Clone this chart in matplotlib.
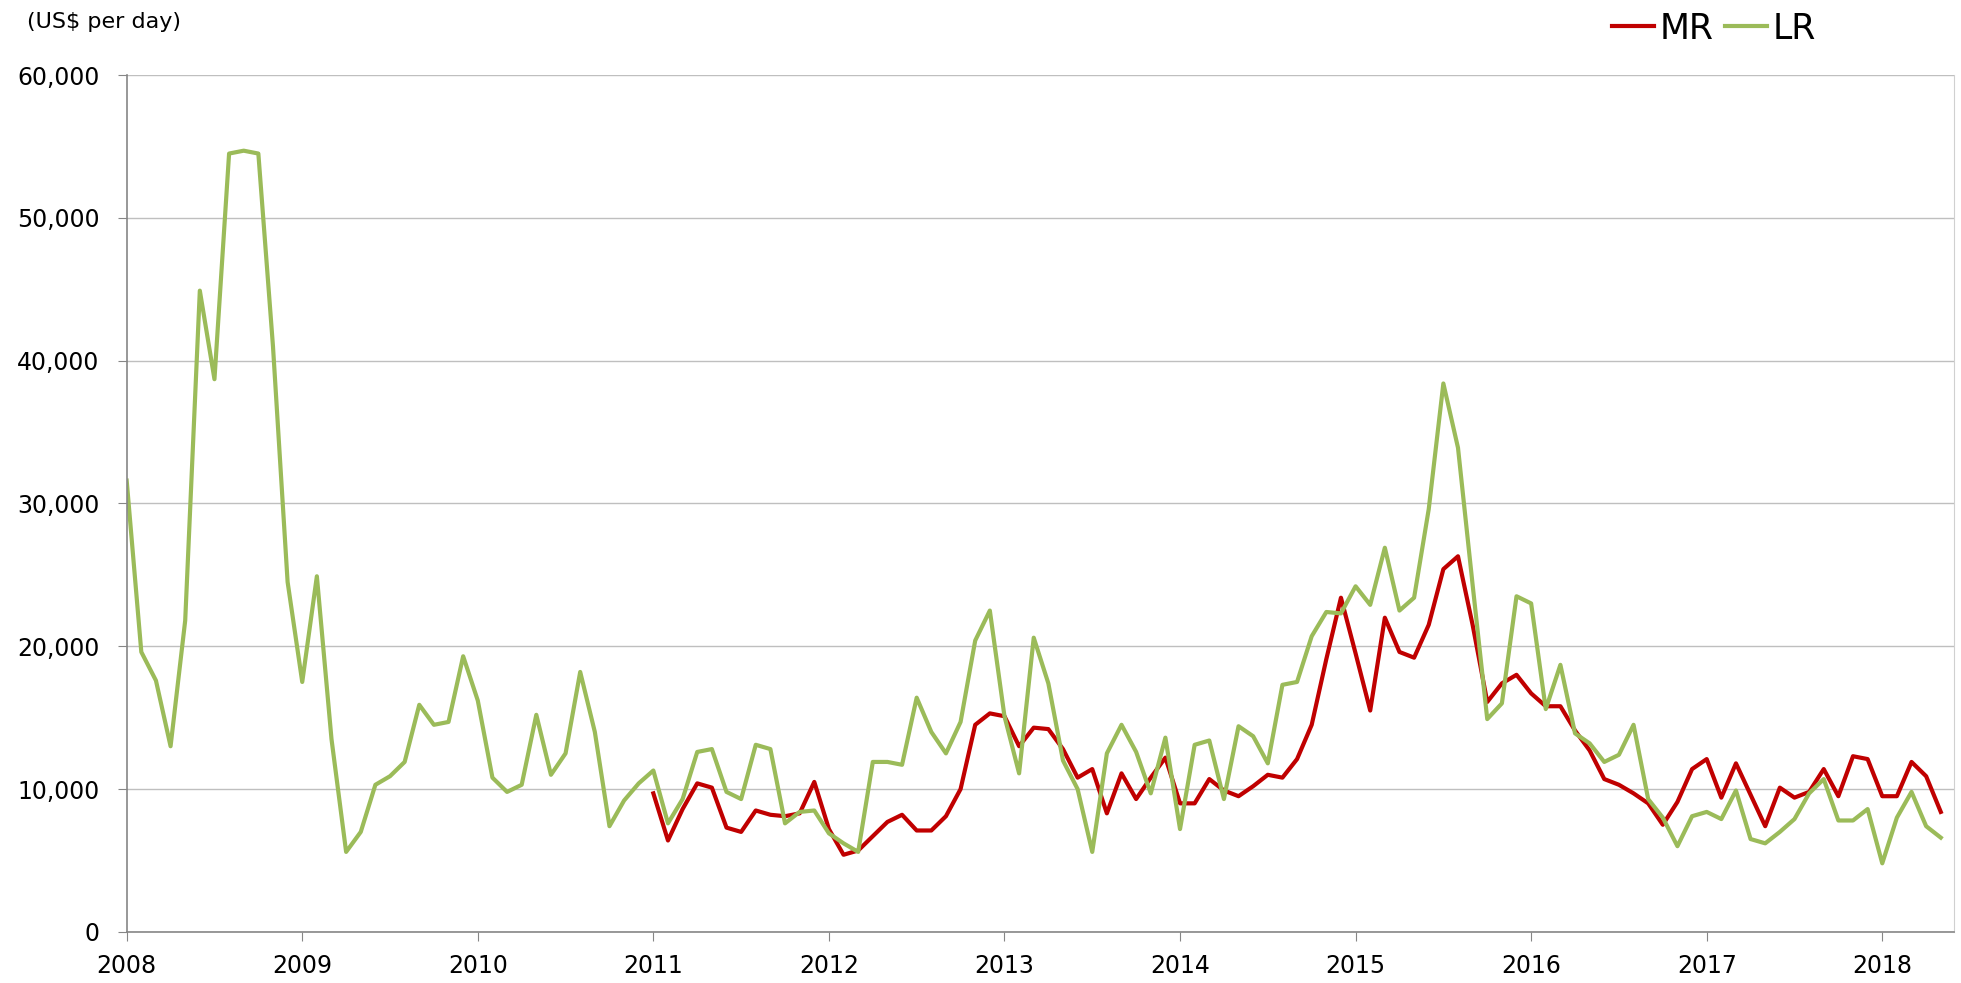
import numpy as np
import matplotlib
matplotlib.use('Agg')
import matplotlib.pyplot as plt

# monthly rates, Jan 2008 - May 2018 (LR) and Jan 2011 - May 2018 (MR)
years = ['2008', '2009', '2010', '2011', '2012', '2013', '2014', '2015', '2016', '2017', '2018']

lr_rates = [31600, 19600, 17600, 13000, 21800, 44900, 38700, 54500, 54700, 54500, 41000, 24500,
            17500, 24900, 13500, 5600, 7000, 10300, 10900, 11900, 15900, 14500, 14700, 19300,
            16200, 10800, 9800, 10300, 15200, 11000, 12500, 18200, 14000, 7400, 9200, 10400,
            11300, 7600, 9300, 12600, 12800, 9800, 9300, 13100, 12800, 7600, 8400, 8500,
            6900, 6200, 5600, 11900, 11900, 11700, 16400, 14000, 12500, 14700, 20400, 22500,
            15100, 11100, 20600, 17400, 12000, 10000, 5600, 12500, 14500, 12600, 9700, 13600,
            7200, 13100, 13400, 9300, 14400, 13700, 11800, 17300, 17500, 20700, 22400, 22300,
            24200, 22900, 26900, 22500, 23400, 29600, 38400, 33900, 24300, 14900, 16000, 23500,
            23000, 15600, 18700, 13900, 13200, 11900, 12400, 14500, 9300, 8000, 6000, 8100,
            8400, 7900, 9900, 6500, 6200, 7000, 7900, 9700, 10700, 7800, 7800, 8600,
            4800, 8000, 9800, 7400, 6600]

mr_rates = [9700, 6400, 8600, 10400, 10100, 7300, 7000, 8500, 8200, 8100, 8300, 10500,
            7200, 5400, 5700, 6700, 7700, 8200, 7100, 7100, 8100, 10000, 14500, 15300,
            15100, 13000, 14300, 14200, 12800, 10800, 11400, 8300, 11100, 9300, 10800, 12200,
            9000, 9000, 10700, 9900, 9500, 10200, 11000, 10800, 12100, 14500, 19100, 23400,
            19500, 15500, 22000, 19600, 19200, 21500, 25400, 26300, 21500, 16100, 17400, 18000,
            16700, 15800, 15800, 14100, 12700, 10700, 10300, 9700, 9000, 7500, 9100, 11400,
            12100, 9400, 11800, 9600, 7400, 10100, 9400, 9800, 11400, 9500, 12300, 12100,
            9500, 9500, 11900, 10900, 8400]

lr_x = np.arange(len(lr_rates))
mr_x = np.arange(len(lr_rates) - len(mr_rates), len(lr_rates))

fig = plt.figure(figsize=(19.61, 9.83), dpi=100)
ax = fig.add_axes([0.0646, 0.052, 0.9318, 0.8717])

ax.plot(mr_x, mr_rates, color='#C00000', lw=3, label='MR', solid_joinstyle='round')
ax.plot(lr_x, lr_rates, color='#9BBB59', lw=3, label='LR', solid_joinstyle='round')

ax.set_xlim(0, 124.9)
ax.set_ylim(0, 60000)
ax.set_yticks(range(0, 60001, 10000))
ax.set_yticklabels(['{:,}'.format(v) for v in range(0, 60001, 10000)], fontsize=17)
ax.set_xticks(np.arange(0, 121, 12))
ax.set_xticklabels(years, fontsize=17)

ax.grid(axis='y', color='#BFBFBF', lw=1)
ax.set_axisbelow(True)
for s in ['left', 'bottom']:
    ax.spines[s].set_color('#868686')
    ax.spines[s].set_linewidth(1.2)
ax.spines['right'].set_color('#D0D0D0')
ax.spines['top'].set_visible(False)
ax.tick_params(axis='y', direction='out', length=6.7, color='#868686', pad=13)
ax.tick_params(axis='x', direction='out', length=6.7, color='#868686', pad=9)

fig.text(0.014, 0.978, '(US$ per day)', fontsize=16, va='center', ha='left')

fig.legend(loc='center', bbox_to_anchor=(0.874, 0.971), ncol=2, frameon=False,
           fontsize=25, handlelength=1.2, handletextpad=0.15, columnspacing=0.35)

fig.savefig('out.png', dpi=100)
